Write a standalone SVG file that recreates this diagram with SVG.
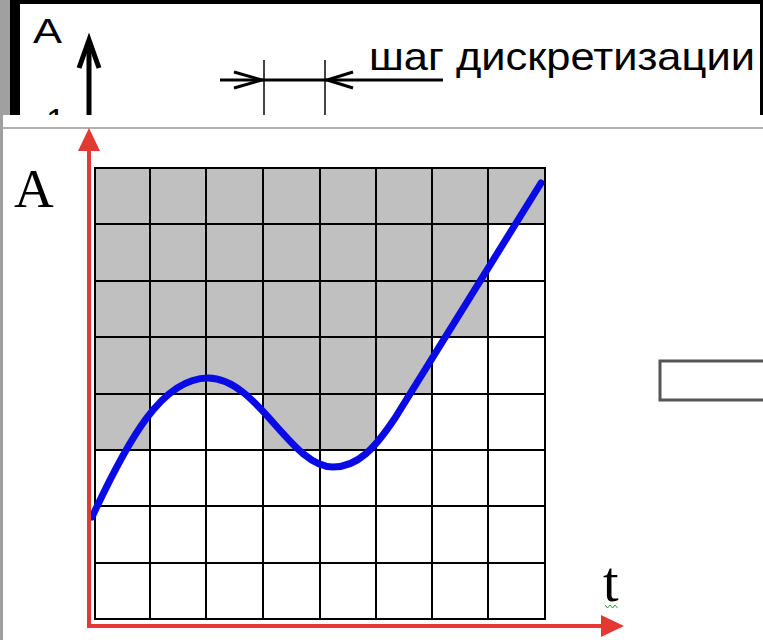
<svg xmlns="http://www.w3.org/2000/svg" width="763" height="640" viewBox="0 0 763 640">
<style>
.grid{stroke:#000;stroke-width:2;fill:none}
.red{stroke:#e23a33;stroke-width:4;fill:none}
.sans{font-family:"Liberation Sans",Arial,sans-serif;fill:#000}
.serif{font-family:"Liberation Serif","Times New Roman",serif;fill:#000}
.blk{stroke:#000;fill:none}
</style>
<rect x="0" y="0" width="763" height="640" fill="#000"/>
<rect x="0" y="0" width="10" height="640" fill="#a0a0a0"/>
<g id="top-slide">
<rect x="20" y="4" width="740" height="111" fill="#fff"/>
<text class="sans" x="33" y="43" font-size="35" textLength="29" lengthAdjust="spacingAndGlyphs">A</text>
<text class="sans" x="46" y="133" font-size="35">1</text>
<line x1="89" y1="42" x2="89" y2="120" stroke="#000" stroke-width="5"/>
<polyline points="79,68 89,40 99,68" class="blk" stroke-width="5" stroke-linejoin="miter"/>
<line x1="264" y1="60" x2="264" y2="120" stroke="#444" stroke-width="2"/>
<line x1="325" y1="60" x2="325" y2="120" stroke="#444" stroke-width="2"/>
<line x1="220" y1="80" x2="443" y2="80" stroke="#000" stroke-width="3"/>
<polyline points="234,72 262,80 234,88" class="blk" stroke-width="3"/>
<polyline points="353,72 327,80 353,88" class="blk" stroke-width="3"/>
<text class="sans" x="369" y="70" font-size="39" textLength="386" lengthAdjust="spacingAndGlyphs">шаг дискретизации</text>
</g>
<g id="bottom-slide">
<rect x="3" y="115" width="760" height="525" fill="#fff"/>
<rect x="3" y="127" width="760" height="2" fill="#b0b0b0"/>
<rect x="660" y="361" width="110" height="39" fill="#fff" stroke="#555" stroke-width="3"/>
</g>
<g id="chart">
<polygon points="95,168 545,168 545,224 488,224 488,337 432,337 432,394 376,394 376,450 263,450 263,394 150,394 150,450 95,450" fill="#c0c0c0"/>
<g class="grid">
<rect x="95" y="168" width="450" height="451"/>
<path d="M150,168V619M206,168V619M263,168V619M320,168V619M376,168V619M432,168V619M488,168V619"/>
<path d="M95,224H545M95,281H545M95,337H545M95,394H545M95,450H545M95,506H545M95,563H545"/>
</g>
<path d="M92,517 C128,440 162,378 208,378 C258,378 290,467 333,467 C358,467 375,448 395,418 L541,183" fill="none" stroke="#0a0ae6" stroke-width="7" stroke-linecap="round"/>
</g>
<g id="axes">
<path class="red" d="M89,150 V626 H603"/>
<polygon points="89,128 78,151 100,151" fill="#e23a33"/>
<polygon points="624,626 601,615 601,637" fill="#e23a33"/>
</g>
<g id="labels">
<text class="serif" x="14" y="207" font-size="55">A</text>
<text class="serif" x="603" y="601" font-size="56">t</text>
<polyline points="605,605 607.5,608 610,605 612.5,608 615,605 617.5,608" fill="none" stroke="#3a9a3a" stroke-width="1"/>
</g>
</svg>
